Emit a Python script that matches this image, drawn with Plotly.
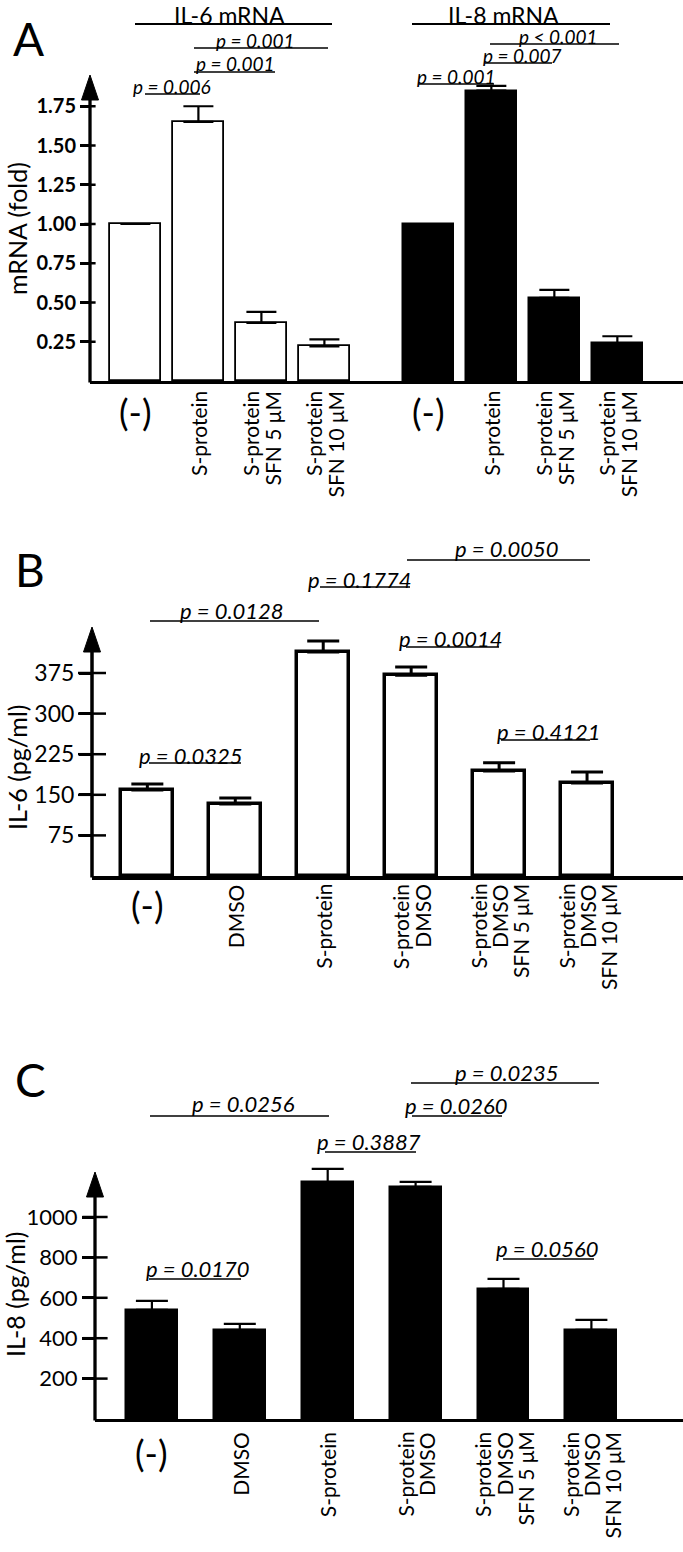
import plotly.graph_objects as go

W, H = 683, 1552
FONT = "Lato"

# ---------------- data ----------------
a_labels = ["(-)", "S-protein", "S-protein<br>SFN 5 μM", "S-protein<br>SFN 10 μM"]
a_il6 = [1.00, 1.65, 0.37, 0.22]
a_il6_err = [0.0, 0.10, 0.07, 0.045]
a_il8 = [1.00, 1.85, 0.53, 0.24]
a_il8_err = [0.0, 0.03, 0.05, 0.045]
a_ticks = [0.25, 0.50, 0.75, 1.00, 1.25, 1.50, 1.75]
a_ticktext = ["0.25", "0.50", "0.75", "1.00", "1.25", "1.50", "1.75"]
a_groups = ["IL-6 mRNA", "IL-8 mRNA"]
a_pvals = ["p = 0.001", "p = 0.001", "p = 0.006", "p < 0.001", "p = 0.007", "p = 0.001"]

bc_labels = ["(-)", "DMSO", "S-protein", "S-protein<br>DMSO",
             "S-protein<br>DMSO<br>SFN 5 μM", "S-protein<br>DMSO<br>SFN 10 μM"]
b_il6 = [159, 133, 414, 371, 194, 172]
b_il6_err = [11, 11, 20, 15, 15, 20]
b_ticks = [75, 150, 225, 300, 375]
b_pvals = ["p = 0.0050", "p = 0.1774", "p = 0.0128", "p = 0.0014", "p = 0.4121", "p = 0.0325"]

c_il8 = [540, 441, 1173, 1149, 644, 441]
c_il8_err = [45, 30, 65, 25, 50, 50]
c_ticks = [200, 400, 600, 800, 1000]
c_pvals = ["p = 0.0235", "p = 0.0256", "p = 0.0260", "p = 0.3887", "p = 0.0560", "p = 0.0170"]

# ---------------- layout helpers ----------------
def px(x):
    return x / W

def py(y):
    return 1 - y / H

A_GROUP_GAP = 4.65
a_pos6 = list(range(len(a_il6)))
a_pos8 = [i + A_GROUP_GAP for i in range(len(a_il8))]
bc_pos = list(range(len(bc_labels)))

panels = {
    "A": dict(axis_x=90, zero=381, top=75, tip=75, ppu=157, org=135.4, step=63,
              ticklen=9, tick_right=8, tickfs=20, bold=True, tickw=2.5, lw=3.3),
    "B": dict(axis_x=92, zero=876, top=627, tip=627, ppu=0.5413, org=147.35, step=87.94,
              ticklen=12, tick_right=20, tickfs=23, bold=False, tickw=2.5, lw=3.5),
    "C": dict(axis_x=95, zero=1419, top=1160, tip=1172, ppu=0.202, org=151.9, step=87.9,
              ticklen=12, tick_right=18, tickfs=22, bold=False, tickw=2.5, lw=3.3),
}

fig = go.Figure()
shapes = []
annotations = []

def xrange_of(p):
    return [(p["axis_x"] - p["org"]) / p["step"], (W - p["org"]) / p["step"]]

def err(arr, thick=2.2, w=15):
    return dict(type="data", array=arr, arrayminus=[0] * len(arr), symmetric=False,
                color="black", thickness=thick, width=w)

# Panel A bars
fig.add_trace(go.Bar(x=a_pos6, y=a_il6, width=0.81,
                     marker=dict(color="white", line=dict(color="black", width=1.8)),
                     error_y=err(a_il6_err), xaxis="x", yaxis="y", showlegend=False))
fig.add_trace(go.Bar(x=a_pos8, y=a_il8, width=0.81,
                     marker=dict(color="black", line=dict(color="black", width=1.5)),
                     error_y=err(a_il8_err), xaxis="x", yaxis="y", showlegend=False))
# Panel B bars
fig.add_trace(go.Bar(x=bc_pos, y=b_il6, width=0.59,
                     marker=dict(color="white", line=dict(color="black", width=3.5)),
                     error_y=err(b_il6_err, 3, 16), xaxis="x2", yaxis="y2", showlegend=False))
# Panel C bars
fig.add_trace(go.Bar(x=bc_pos, y=c_il8, width=0.59,
                     marker=dict(color="black", line=dict(color="black", width=1.5)),
                     error_y=err(c_il8_err, 2.2, 16), xaxis="x3", yaxis="y3", showlegend=False))

# tick crossings (part of the y ticks to the right of the axis)
for key, ax, ticks in (("A", "", a_ticks), ("B", "2", b_ticks), ("C", "3", c_ticks)):
    p = panels[key]
    fig.add_trace(go.Scatter(x=[xrange_of(p)[0]] * len(ticks), y=ticks, mode="markers",
                             marker=dict(symbol="line-ew", size=p["tick_right"],
                                         line=dict(color="black", width=p["tickw"])),
                             cliponaxis=False, hoverinfo="skip", showlegend=False,
                             xaxis="x" + ax, yaxis="y" + ax))

layout = dict(width=W, height=H, margin=dict(l=0, r=0, t=0, b=0),
              paper_bgcolor="white", plot_bgcolor="white", showlegend=False,
              font=dict(family=FONT, color="black"), bargap=0)

for key, ax, ticks, ttext in (("A", "", a_ticks, a_ticktext), ("B", "2", b_ticks, None),
                              ("C", "3", c_ticks, None)):
    p = panels[key]
    layout["xaxis" + ax] = dict(domain=[px(p["axis_x"]), 1], range=xrange_of(p), anchor="y" + ax,
                                showline=True, linecolor="black", linewidth=p["lw"], ticks="",
                                showticklabels=False, showgrid=False, zeroline=False, fixedrange=True)
    yd = dict(domain=[py(p["zero"]), py(p["top"])], range=[0, (p["zero"] - p["top"]) / p["ppu"]],
              anchor="x" + ax, showline=False, showgrid=False, zeroline=False,
              tickvals=ticks, ticks="outside", ticklen=p["ticklen"], tickwidth=p["tickw"],
              tickcolor="black",
              tickfont=dict(family=FONT, size=p["tickfs"], color="black",
                            weight="bold" if p["bold"] else "normal"))
    if ttext:
        yd["ticktext"] = ttext
    layout["yaxis" + ax] = yd
    # y axis line with arrow head
    shapes.append(dict(type="line", xref="paper", yref="paper", x0=px(p["axis_x"]), x1=px(p["axis_x"]),
                       y0=py(p["zero"] + 1.5), y1=py(p["tip"] + 20),
                       line=dict(color="black", width=p["lw"])))
    ax_x, tip = p["axis_x"], p["tip"]
    path = "M {} {} L {} {} L {} {} Z".format(px(ax_x - 8.5), py(tip + 25), px(ax_x), py(tip),
                                              px(ax_x + 8.5), py(tip + 25))
    shapes.append(dict(type="path", xref="paper", yref="paper", path=path,
                       fillcolor="black", line=dict(color="black", width=1)))

def hline(x0, x1, y, w=1.6):
    shapes.append(dict(type="line", xref="paper", yref="paper", x0=px(x0), x1=px(x1),
                       y0=py(y), y1=py(y), line=dict(color="black", width=w)))

def text(t, x, y, size, italic=False, angle=0, xanchor="center", yanchor="middle", xref="paper",
         xshift=0):
    annotations.append(dict(text=t, x=x if xref != "paper" else px(x), y=py(y), xref=xref, yref="paper",
                            showarrow=False, xanchor=xanchor, yanchor=yanchor, textangle=angle,
                            xshift=xshift,
                            font=dict(family=FONT, size=size, color="black",
                                      style="italic" if italic else "normal")))

# panel letters
text("A", 28, 38, 46)
text("B", 30, 569, 46)
text("C", 30, 1079, 46)

# y titles
text("mRNA (fold)", 17, 229, 25, angle=-90)
text("IL-6 (pg/ml)", 17, 768, 25, angle=-90)
text("IL-8 (pg/ml)", 15, 1295, 25, angle=-90)

# panel A group titles
text(a_groups[0], 229, 15, 23)
hline(135, 332, 24, 2)
text(a_groups[1], 503, 15, 23)
hline(412, 610, 24, 2)

# p-values: (text center x, y, line x0, x1, line y)
a_pgeo = [(255, 40, 194, 328, 48), (235, 64, 194, 275, 72), (172, 86, 145, 200, 94),
          (558, 36, 490, 619, 44), (522, 56, 485, 552, 63), (456, 76, 419, 494, 84)]
for t, (tx, ty, l0, l1, ly) in zip(a_pvals, a_pgeo):
    text(t, tx, ty, 19, italic=True)
    hline(l0, l1, ly)

b_pgeo = [(507, 548, 407, 590, 560), (360, 579, 320, 410, 587), (232, 611, 150, 319, 621),
          (451, 638, 406, 499, 647), (549, 731, 501, 590, 740), (191, 755, 149, 241, 763)]
for t, (tx, ty, l0, l1, ly) in zip(b_pvals, b_pgeo):
    text(t, tx, ty, 22, italic=True)
    hline(l0, l1, ly)

c_pgeo = [(507, 1072, 411, 599, 1083), (243, 1103, 150, 329, 1116), (456, 1105, 412, 502, 1116),
          (369, 1141, 325, 416, 1152), (547, 1248, 503, 594, 1259), (198, 1268, 149, 241, 1279)]
for t, (tx, ty, l0, l1, ly) in zip(c_pvals, c_pgeo):
    text(t, tx, ty, 22, italic=True)
    hline(l0, l1, ly)

# category labels (rotated, one annotation per text line so that line spacing can be tight)
def cat_labels(labels, positions, xref, ytop, size, spacing):
    for lab, pos in zip(labels, positions):
        if lab == "(-)":
            text(lab, pos, ytop - 1, 36, yanchor="top", xref=xref)
            continue
        lines = lab.split("<br>")
        n = len(lines)
        for i, ln in enumerate(lines):
            text(ln, pos, ytop, size, angle=-90, yanchor="top", xref=xref,
                 xshift=(i - (n - 1) / 2) * spacing)

cat_labels(a_labels, a_pos6, "x", 389, 21, 22)
cat_labels(a_labels, a_pos8, "x", 389, 21, 22)
cat_labels(bc_labels, bc_pos, "x2", 882, 21, 21)
cat_labels(bc_labels, bc_pos, "x3", 1430, 21, 21)

layout["shapes"] = shapes
layout["annotations"] = annotations
fig.update_layout(**layout)
fig.write_html("out.html", config={"displayModeBar": False},
               post_script="document.body.style.margin='0px';document.body.style.padding='0px';")
